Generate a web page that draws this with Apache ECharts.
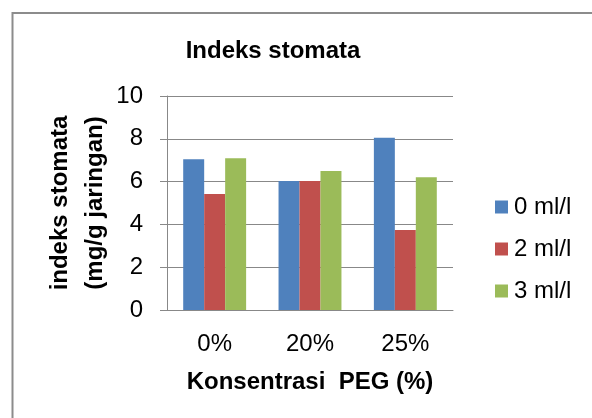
<!DOCTYPE html>
<html>
<head>
<meta charset="UTF-8">
<title>Indeks stomata</title>
<script src="https://cdn.jsdelivr.net/npm/echarts@6/dist/echarts.min.js"></script>
<style>
  html, body { margin: 0; padding: 0; background: #fff; }
  #main { width: 592px; height: 418px; }
</style>
</head>
<body>
<div id="main"></div>
<script>
// data
var categories = ['0%', '20%', '25%'];
var seriesNames = ['0 ml/l', '2 ml/l', '3 ml/l'];
var val0 = [7.05, 6.03, 8.05];
var val2 = [5.42, 6.03, 3.74];
var val3 = [7.09, 6.5, 6.2];
var yTicks = [0, 2, 4, 6, 8, 10];

var chart = echarts.init(document.getElementById('main'));
var font = '"Liberation Sans", Arial, sans-serif';

chart.setOption({
    backgroundColor: '#fff',
    color: ['#4f81bd', '#c0504d', '#9bbb59'],
    animation: false,
    title: {
        text: 'Indeks stomata',
        left: 268,
        textAlign: 'center',
        top: 34,
        textStyle: { fontFamily: font, fontSize: 24, fontWeight: 'bold', color: '#000' }
    },
    // outer frame of the chart box
    graphic: [{
        type: 'polyline',
        shape: { points: [[12.5, 418], [12.5, 13], [592, 13]] },
        style: { stroke: '#8c8c8c', lineWidth: 2, fill: null }
    }],
    grid: { left: 167, right: 139, top: 96, bottom: 108 },
    legend: {
        orient: 'vertical',
        left: 490,
        top: 190,
        itemWidth: 13,
        itemHeight: 13,
        itemGap: 18,
        icon: 'rect',
        textStyle: { fontFamily: font, fontSize: 24, color: '#000', padding: [0, 0, 0, 1] },
        data: seriesNames
    },
    xAxis: {
        type: 'category',
        data: categories,
        name: 'Konsentrasi  PEG (%)',
        nameLocation: 'middle',
        nameGap: 60,
        nameTextStyle: { fontFamily: font, fontSize: 24, fontWeight: 'bold', color: '#000' },
        axisLine: { lineStyle: { color: '#888' } },
        axisTick: { show: false },
        axisLabel: { fontFamily: font, fontSize: 24, color: '#000', margin: 22 }
    },
    yAxis: {
        type: 'value',
        min: yTicks[0],
        max: yTicks[yTicks.length - 1],
        interval: 2,
        name: 'indeks stomata\n(mg/g jaringan)',
        nameLocation: 'middle',
        nameGap: 54,
        nameMoveOverlap: false,
        nameTextStyle: { fontFamily: font, fontSize: 24, fontWeight: 'bold', color: '#000', lineHeight: 35 },
        axisLine: { show: true, lineStyle: { color: '#888' } },
        axisTick: { show: true, inside: false, length: 7, lineStyle: { color: '#888' } },
        splitLine: { lineStyle: { color: '#888' } },
        axisLabel: { fontFamily: font, fontSize: 24, color: '#000', margin: 24 }
    },
    series: [
        { name: seriesNames[0], type: 'bar', data: val0, barGap: '0%', barCategoryGap: '34%' },
        { name: seriesNames[1], type: 'bar', data: val2, barGap: '0%', barCategoryGap: '34%' },
        { name: seriesNames[2], type: 'bar', data: val3, barGap: '0%', barCategoryGap: '34%' }
    ]
});
</script>
</body>
</html>
